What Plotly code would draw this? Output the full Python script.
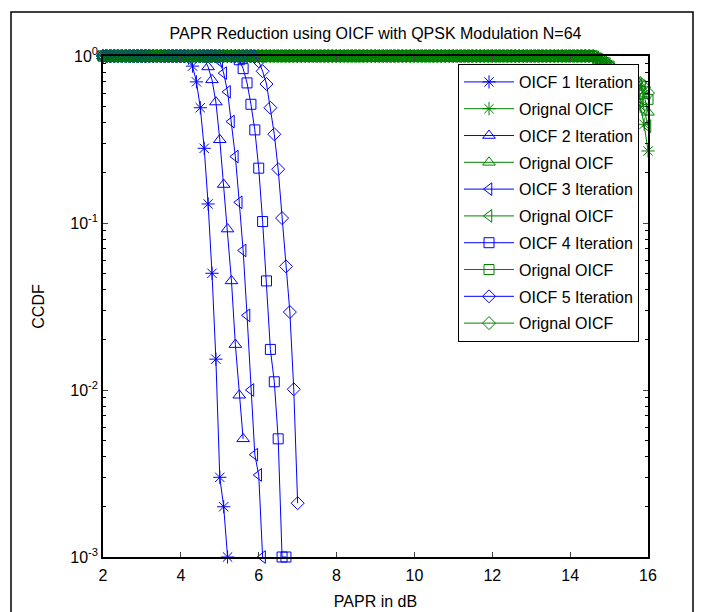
import plotly.graph_objects as go

# PAPR grid (dB), 0.1 dB steps from 2 to 16
papr_db = [round(2.0 + 0.1 * i, 1) for i in range(141)]

# CCDF plateau (values read as 1.0 at the top of the chart), 2.0 .. 14.5 dB
ccdf_plateau = [
    1, 1, 1, 1, 1, 1, 1, 1, 1, 1, 1, 1, 1, 1, 1, 1, 1, 1, 1, 1, 1,
    1, 1, 1, 1, 1, 1, 1, 1, 1, 1, 1, 1, 1, 1, 1, 1, 1, 1, 1, 1, 1,
    1, 1, 1, 1, 1, 1, 1, 1, 1, 1, 1, 1, 1, 1, 1, 1, 1, 1, 1, 1, 1,
    1, 1, 1, 1, 1, 1, 1, 1, 1, 1, 1, 1, 1, 1, 1, 1, 1, 1, 1, 1, 1,
    1, 1, 1, 1, 1, 1, 1, 1, 1, 1, 1, 1, 1, 1, 1, 1, 1, 1, 1, 1, 1,
    1, 1, 1, 1, 1, 1, 1, 1, 1, 1, 1, 1, 1, 1, 1, 1, 1, 1, 1, 1, 1,
]

# OICF iterations: tail values after the plateau
oicf1_tail = [0.97, 0.87, 0.70, 0.49, 0.28, 0.13, 0.05, 0.0153, 0.003, 0.002, 0.001]           # from 4.2 dB
oicf2_tail = [0.99, 0.96, 0.86, 0.72, 0.53, 0.315, 0.17, 0.092, 0.045, 0.0187, 0.0093, 0.0051]  # from 4.5 dB
oicf3_tail = [0.99, 0.93, 0.79, 0.61, 0.405, 0.25, 0.133, 0.0685, 0.028, 0.010, 0.0041, 0.0031, 0.001]  # from 4.9 dB
oicf4_tail = [0.99, 0.95, 0.84, 0.69, 0.514, 0.361, 0.213, 0.102, 0.045, 0.0175, 0.0112, 0.0051, 0.001, 0.001]  # from 5.4 dB
oicf5_tail = [0.99, 0.93, 0.81, 0.68, 0.49, 0.34, 0.21, 0.107, 0.055, 0.0293, 0.0101, 0.0021]  # from 5.9 dB

# Original OICF: tail values from 14.6 to 16.0 dB
orig1_tail = [0.99, 0.96, 0.93, 0.89, 0.85, 0.80, 0.76, 0.72, 0.68, 0.64, 0.60, 0.55, 0.50, 0.39, 0.27]
orig2_tail = [0.99, 0.97, 0.94, 0.91, 0.87, 0.83, 0.80, 0.77, 0.74, 0.72, 0.70, 0.68, 0.66, 0.58, 0.46]
orig3_tail = [0.99, 0.96, 0.93, 0.90, 0.86, 0.82, 0.78, 0.74, 0.70, 0.66, 0.62, 0.59, 0.56, 0.48, 0.38]
orig4_tail = [1.00, 0.97, 0.94, 0.91, 0.87, 0.83, 0.80, 0.77, 0.75, 0.73, 0.71, 0.69, 0.67, 0.61, 0.55]
orig5_tail = [1.00, 0.97, 0.95, 0.92, 0.88, 0.84, 0.81, 0.78, 0.76, 0.74, 0.72, 0.70, 0.69, 0.65, 0.60]

oicf_series = [
    ("OICF 1 Iteration", ccdf_plateau[:22] + oicf1_tail, "asterisk-open"),
    ("OICF 2 Iteration", ccdf_plateau[:25] + oicf2_tail, "triangle-up-open"),
    ("OICF 3 Iteration", ccdf_plateau[:29] + oicf3_tail, "triangle-left-open"),
    ("OICF 4 Iteration", ccdf_plateau[:34] + oicf4_tail, "square-open"),
    ("OICF 5 Iteration", ccdf_plateau[:39] + oicf5_tail, "diamond-open"),
]
orig_series = [
    ccdf_plateau + orig1_tail,
    ccdf_plateau + orig2_tail,
    ccdf_plateau + orig3_tail,
    ccdf_plateau + orig4_tail,
    ccdf_plateau + orig5_tail,
]

BLUE = "#0000FF"
GREEN = "#008000"
sizes = {"asterisk-open": 11, "triangle-up-open": 11, "triangle-left-open": 11,
         "square-open": 10, "diamond-open": 10}

fig = go.Figure()
for k, ((name, y, sym), yo) in enumerate(zip(oicf_series, orig_series)):
    fig.add_trace(go.Scatter(
        x=papr_db[:len(y)], y=y, mode="lines+markers", name=name,
        legendgroup=f"g{2*k}", cliponaxis=False,
        line=dict(color=BLUE, width=1),
        marker=dict(symbol=sym, size=sizes[sym], color=BLUE, line=dict(color=BLUE, width=1)),
    ))
    fig.add_trace(go.Scatter(
        x=papr_db[:len(yo)], y=yo, mode="lines+markers", name="Orignal OICF",
        legendgroup=f"g{2*k+1}", cliponaxis=False,
        line=dict(color=GREEN, width=1),
        marker=dict(symbol=sym, size=sizes[sym], color=GREEN, line=dict(color=GREEN, width=1)),
    ))

FONT = "Liberation Sans, Arial, sans-serif"
minor_vals = [m * 10.0 ** d for d in (-3, -2, -1) for m in range(2, 10)]

# the page has an 8px body margin, so the figure is sized to fit the 703x612 window
W, H = 695, 604

fig.update_layout(
    width=W, height=H,
    margin=dict(l=95, r=55, t=48, b=55, autoexpand=False),
    paper_bgcolor="white", plot_bgcolor="white",
    font=dict(family=FONT, size=16, color="black"),
    title=dict(text="PAPR Reduction using OICF with QPSK Modulation N=64",
               x=0.5, xref="paper", xanchor="center",
               y=1 - 25 / H, yref="container", yanchor="middle",
               font=dict(size=16, color="black")),
    showlegend=True,
    legend=dict(x=0.9835, y=0.984, xanchor="right", yanchor="top",
                bgcolor="white", bordercolor="black", borderwidth=1,
                font=dict(size=16, color="black"), tracegroupgap=3,
                itemwidth=50),
    xaxis=dict(range=[2, 16], tick0=2, dtick=2, ticks="inside", ticklen=5,
               showline=True, linecolor="black", linewidth=1.5, mirror="ticks",
               showgrid=False, zeroline=False, tickfont=dict(size=16),
               ticklabelstandoff=3, automargin=False,
               title=dict(text="PAPR in dB", standoff=13, font=dict(size=16))),
    yaxis=dict(type="log", range=[-3, 0], tickmode="array",
               tickvals=[0.001, 0.01, 0.1, 1],
               ticktext=["10<sup>-3</sup>", "10<sup>-2</sup>", "10<sup>-1</sup>", "10<sup>0</sup>"],
               ticks="inside", ticklen=5, automargin=False,
               minor=dict(tickmode="array", tickvals=minor_vals, ticks="inside", ticklen=3,
                          tickcolor="black", showgrid=False),
               showline=True, linecolor="black", linewidth=1.5, mirror="ticks",
               showgrid=False, zeroline=False, tickfont=dict(size=16),
               title=dict(text="CCDF", standoff=22, font=dict(size=16))),
    shapes=[dict(type="rect", xref="paper", yref="paper",
                 x0=(3 - 95) / 545, x1=(685 - 95) / 545,
                 y0=(549 - 620) / 501, y1=(549 - 4) / 501,
                 line=dict(color="black", width=1.5), fillcolor="rgba(0,0,0,0)", layer="below")],
)

fig.write_html("out.html")
